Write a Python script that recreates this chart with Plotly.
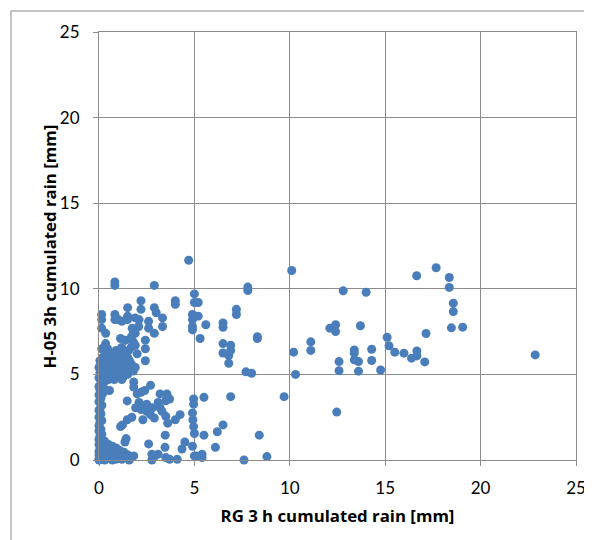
import plotly.graph_objects as go

# RG 3 h cumulated rain [mm] (x) vs H-05 3h cumulated rain [mm] (y)
rg_3h_mm = [
    # column near x = 0
    0.0, 0.05, 0.1, 0.0, 0.15, 0.0, 0.1, 0.05, 0.0, 0.2, 0.1, 0.0, 0.05, 0.15, 0.0, 0.1,
    0.0, 0.05, 0.15, 0.0, 0.1, 0.0, 0.05, 0.15, 0.0, 0.1, 0.0, 0.2, 0.05, 0.0, 0.15, 0.1,
    0.0, 0.2, 0.05, 0.15, 0.0, 0.1, 0.05, 0.2, 0.14, 0.35, 0.35, 0.14, 0.14, 0.14, 0.3, 0.25,
    0.3, 0.25, 0.55, 0.0, 0.3, 0.2,
    # bottom-left wedge
    0.3, 0.5, 0.7, 0.9, 1.1, 1.3, 1.5, 0.4, 0.6, 0.8, 1.0, 1.2, 0.5, 0.7, 1.2, 1.58,
    1.7, 1.82, 1.36, 1.42, 0.45, 0.9,
    # low values, x 1-10
    1.13, 1.23, 1.48, 1.72, 1.48, 1.82, 1.82, 2.0, 2.2, 2.4, 2.7, 1.92, 2.1, 2.2, 2.3, 2.5,
    2.5, 2.7, 2.9, 2.8, 2.6, 2.77, 2.77, 2.9, 3.1, 3.46, 3.5, 3.7, 4.1, 4.35, 4.5, 4.9,
    5.0, 5.1, 5.4, 5.4, 6.1, 6.2, 6.5, 5.5, 5.5, 7.6, 8.8, 8.4, 6.9, 9.7, 12.46, 3.2,
    3.56, 3.7, 3.1, 3.5, 3.3, 3.5, 3.6, 4.0, 4.25, 3.47, 4.96, 4.96, 4.9, 4.92, 4.96, 5.0,
    3.2,
    # dense cluster x 0.3-2.5, y 4.5-7
    0.4, 0.5, 0.6, 0.7, 0.8, 0.9, 1.0, 1.1, 1.2, 1.3, 1.4, 1.5, 0.5, 0.8, 1.1, 1.3,
    1.6, 1.7, 1.8, 0.6, 0.9, 1.0, 0.3, 0.4, 0.7, 1.2, 1.5, 0.45, 1.9, 0.6, 1.0, 0.8,
    0.5, 1.4, 1.6, 1.2, 0.87, 1.25, 1.56, 1.9, 2.43, 2.43, 2.43, 1.13, 1.4, 1.7, 1.8, 1.74,
    1.9, 2.08, 2.6, 2.9, 1.19, 1.8, 2.0, 1.7,
    # upper part x 0.8-5.6
    0.83, 0.83, 1.0, 1.5, 1.5, 1.9, 2.1, 2.6, 3.33, 3.33, 1.5, 2.2, 2.2, 2.9, 3.0, 4.0,
    4.0, 0.83, 0.83, 2.9, 4.7, 5.0, 5.0, 5.2, 4.9, 4.9, 5.2, 4.9, 4.9, 5.6, 5.3, 1.2,
    # x 5.5-11
    7.8, 7.8, 7.2, 7.2, 6.5, 6.5, 8.3, 8.3, 6.5, 6.9, 6.9, 6.5, 6.8, 6.8, 7.7, 8.0,
    10.1, 10.2, 11.1, 11.1, 10.3,
    # x 12-23
    12.1, 12.4, 12.4, 12.8, 14.0, 16.65, 17.67, 18.36, 18.36, 18.57, 18.57, 18.47, 19.06, 17.14, 13.7, 15.1,
    15.2, 15.5, 15.98, 16.38, 16.66, 16.66, 17.07, 13.38, 13.38, 13.38, 13.6, 13.6, 14.29, 14.29, 14.76, 12.58,
    12.58, 22.86,
]

h05_3h_mm = [
    # column near x = 0
    0.0, 0.1, 0.2, 0.3, 0.4, 0.5, 0.6, 0.8, 0.9, 1.0, 1.1, 1.2, 1.4, 1.5, 1.7, 1.8,
    2.0, 2.2, 2.3, 2.5, 2.7, 2.9, 3.0, 3.2, 3.4, 3.6, 3.8, 3.9, 4.1, 4.3, 4.4, 4.6,
    4.8, 4.9, 5.1, 5.2, 5.4, 5.6, 5.8, 6.0, 6.5, 6.8, 7.4, 7.7, 8.2, 8.5, 5.5, 5.0,
    4.6, 4.2, 4.06, 0.05, 0.0, 0.25,
    # bottom-left wedge
    1.1, 0.9, 0.8, 0.7, 0.55, 0.45, 0.3, 0.6, 0.4, 0.3, 0.2, 0.1, 0.1, 0.0, 0.04, 0.0,
    0.14, 0.24, 1.05, 1.25, 0.3, 0.05,
    # low values, x 1-10
    1.95, 2.05, 2.35, 2.5, 3.45, 4.56, 4.26, 3.86, 3.96, 4.06, 4.36, 3.05, 3.36, 2.95, 2.35, 3.26,
    2.85, 2.65, 2.45, 3.05, 0.94, 0.0, 0.34, 0.2, 0.34, 0.74, 0.14, 0.04, 0.04, 0.64, 1.05, 0.8,
    0.24, 0.24, 0.34, 0.14, 0.74, 1.65, 2.05, 1.45, 3.66, 0.0, 0.2, 1.45, 3.7, 3.7, 2.8, 3.86,
    3.86, 3.56, 3.36, 3.46, 2.85, 2.55, 2.15, 2.35, 2.65, 1.45, 3.56, 3.26, 2.75, 2.35, 1.95, 1.55,
    3.05,
    # dense cluster x 0.3-2.5, y 4.5-7
    5.0, 5.3, 5.6, 5.9, 6.1, 5.0, 5.4, 5.8, 6.2, 5.2, 5.6, 6.0, 4.7, 4.7, 4.8, 4.9,
    5.3, 5.6, 5.2, 6.2, 6.4, 6.0, 6.1, 5.7, 5.2, 5.5, 5.0, 6.5, 5.4, 4.9, 4.9, 5.5,
    6.0, 5.2, 5.8, 4.7, 6.25, 6.35, 6.4, 6.7, 5.8, 6.5, 7.0, 7.1, 7.0, 7.2, 7.5, 7.7,
    7.4, 7.8, 7.7, 7.4, 6.57, 6.9, 6.2, 6.6,
    # upper part x 0.8-5.6
    8.5, 8.2, 8.2, 8.4, 8.2, 8.3, 8.2, 8.1, 8.3, 7.8, 8.9, 9.3, 8.8, 8.9, 8.6, 9.3,
    9.1, 10.4, 10.2, 10.2, 11.67, 9.7, 9.2, 9.2, 8.5, 8.2, 8.4, 7.8, 7.6, 7.9, 7.1, 8.1,
    # x 5.5-11
    10.1, 9.9, 8.8, 8.5, 8.0, 7.75, 7.2, 7.1, 6.8, 6.7, 6.4, 6.25, 6.1, 5.65, 5.15, 5.07,
    11.07, 6.3, 6.9, 6.4, 5.0,
    # x 12-23
    7.7, 7.9, 7.5, 9.88, 9.8, 10.76, 11.23, 10.66, 10.08, 9.16, 8.67, 7.72, 7.76, 7.39, 7.84, 7.17,
    6.67, 6.3, 6.24, 5.95, 6.37, 6.08, 5.73, 6.43, 6.24, 5.85, 5.75, 5.19, 6.47, 5.81, 5.26, 5.75,
    5.22, 6.14,
]

tick_values = [0, 5, 10, 15, 20, 25]
x_title = "RG 3 h cumulated rain [mm]"
y_title = "H-05 3h cumulated rain [mm]"

FONT = "Lato, Carlito, Calibri, sans-serif"
TITLE_FONT = "Open Sans, Lato, sans-serif"
GRID = "#8c8c8c"

fig = go.Figure(
    go.Scatter(
        x=rg_3h_mm,
        y=h05_3h_mm,
        mode="markers",
        marker=dict(size=9, color="#4A7EBB", line=dict(width=0)),
        cliponaxis=False,
        showlegend=False,
    )
)

axis_common = dict(
    range=[0, 25],
    tickvals=tick_values,
    showgrid=True,
    gridcolor=GRID,
    gridwidth=1,
    showline=True,
    linecolor=GRID,
    linewidth=1,
    mirror=True,
    zeroline=False,
    ticks="outside",
    ticklen=5,
    tickcolor=GRID,
    tickfont=dict(family=FONT, size=17, color="#000000"),
    fixedrange=True,
)

title_font = dict(family=TITLE_FONT, size=16.8, color="#000000", weight="bold")

fig.update_xaxes(
    **axis_common,
    ticklabelstandoff=8,
    title=dict(text=x_title, font=title_font, standoff=12),
)
fig.update_yaxes(
    **axis_common,
    ticklabelstandoff=10,
)

# the page body adds an 8 px offset, so the figure is 8 px smaller than the window
fig.update_layout(
    width=584,
    height=532,
    margin=dict(l=91, r=16, t=24, b=80, autoexpand=False),
    paper_bgcolor="white",
    plot_bgcolor="white",
    annotations=[
        dict(
            text=y_title, textangle=-90, showarrow=False,
            xref="paper", yref="paper", x=-0.104, y=0.5,
            xanchor="center", yanchor="middle", font=title_font,
        )
    ],
    shapes=[
        dict(
            type="rect", xref="paper", yref="paper",
            x0=-0.1845, x1=1.2, y0=-0.25, y1=1.049,
            line=dict(color="#8c8c8c", width=1), fillcolor="rgba(0,0,0,0)", layer="below",
        )
    ],
)

fig.write_html("out.html")
